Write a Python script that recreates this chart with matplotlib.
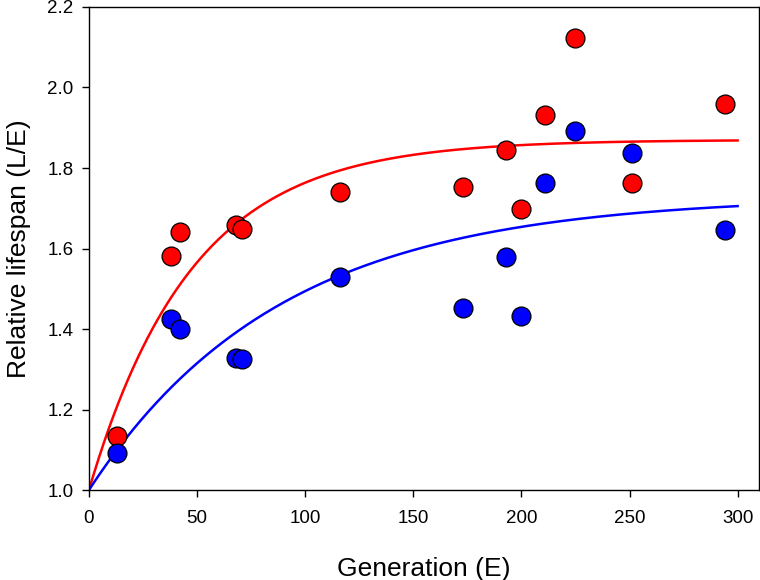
import numpy as np
import matplotlib.pyplot as plt

plt.rcParams['font.family'] = ['Liberation Sans', 'DejaVu Sans']

# define data
generation = [13, 38, 42, 68, 71, 116, 173, 193, 200, 211, 225, 251, 294]
red_lifespan = [1.134, 1.581, 1.640, 1.659, 1.649, 1.740, 1.752,
                1.845, 1.699, 1.932, 2.122, 1.764, 1.960]
blue_lifespan = [1.091, 1.426, 1.400, 1.329, 1.326, 1.529, 1.453,
                 1.578, 1.432, 1.764, 1.893, 1.837, 1.645]

# fitted curves: y = 1 + a * (1 - exp(-b * x))
red_fit = (0.87, 0.021)
blue_fit = (0.73, 0.0113)

# make plot
fig = plt.figure(figsize=(7.6, 5.8), dpi=100)
ax = fig.add_axes([0.117, 0.155, 0.882, 0.833])

x_fit = np.linspace(0, 300, 400)
for (a, b), color in [(red_fit, 'red'), (blue_fit, 'blue')]:
    ax.plot(x_fit, 1 + a * (1 - np.exp(-b * x_fit)), color=color, lw=1.8, zorder=2)

ax.scatter(generation, red_lifespan, s=185, c='red', edgecolors='black',
           linewidths=0.9, zorder=3)
ax.scatter(generation, blue_lifespan, s=185, c='blue', edgecolors='black',
           linewidths=0.9, zorder=4)

# customize plot
ax.set_xlim(0, 310)
ax.set_ylim(1.0, 2.2)
ax.set_xticks([0, 50, 100, 150, 200, 250, 300])
ax.set_yticks([1.0, 1.2, 1.4, 1.6, 1.8, 2.0, 2.2])
ax.set_yticklabels(['1.0', '1.2', '1.4', '1.6', '1.8', '2.0', '2.2'])
ax.tick_params(axis='both', direction='out', length=5, width=1,
               labelsize=13.5, pad=6)
ax.tick_params(axis='x', pad=9)
for spine in ax.spines.values():
    spine.set_linewidth(1)
ax.set_xlabel('Generation (E)', fontsize=19, labelpad=22)
ax.set_ylabel('Relative lifespan (L/E)', fontsize=19, labelpad=12)

fig.savefig('out.png', dpi=100)
